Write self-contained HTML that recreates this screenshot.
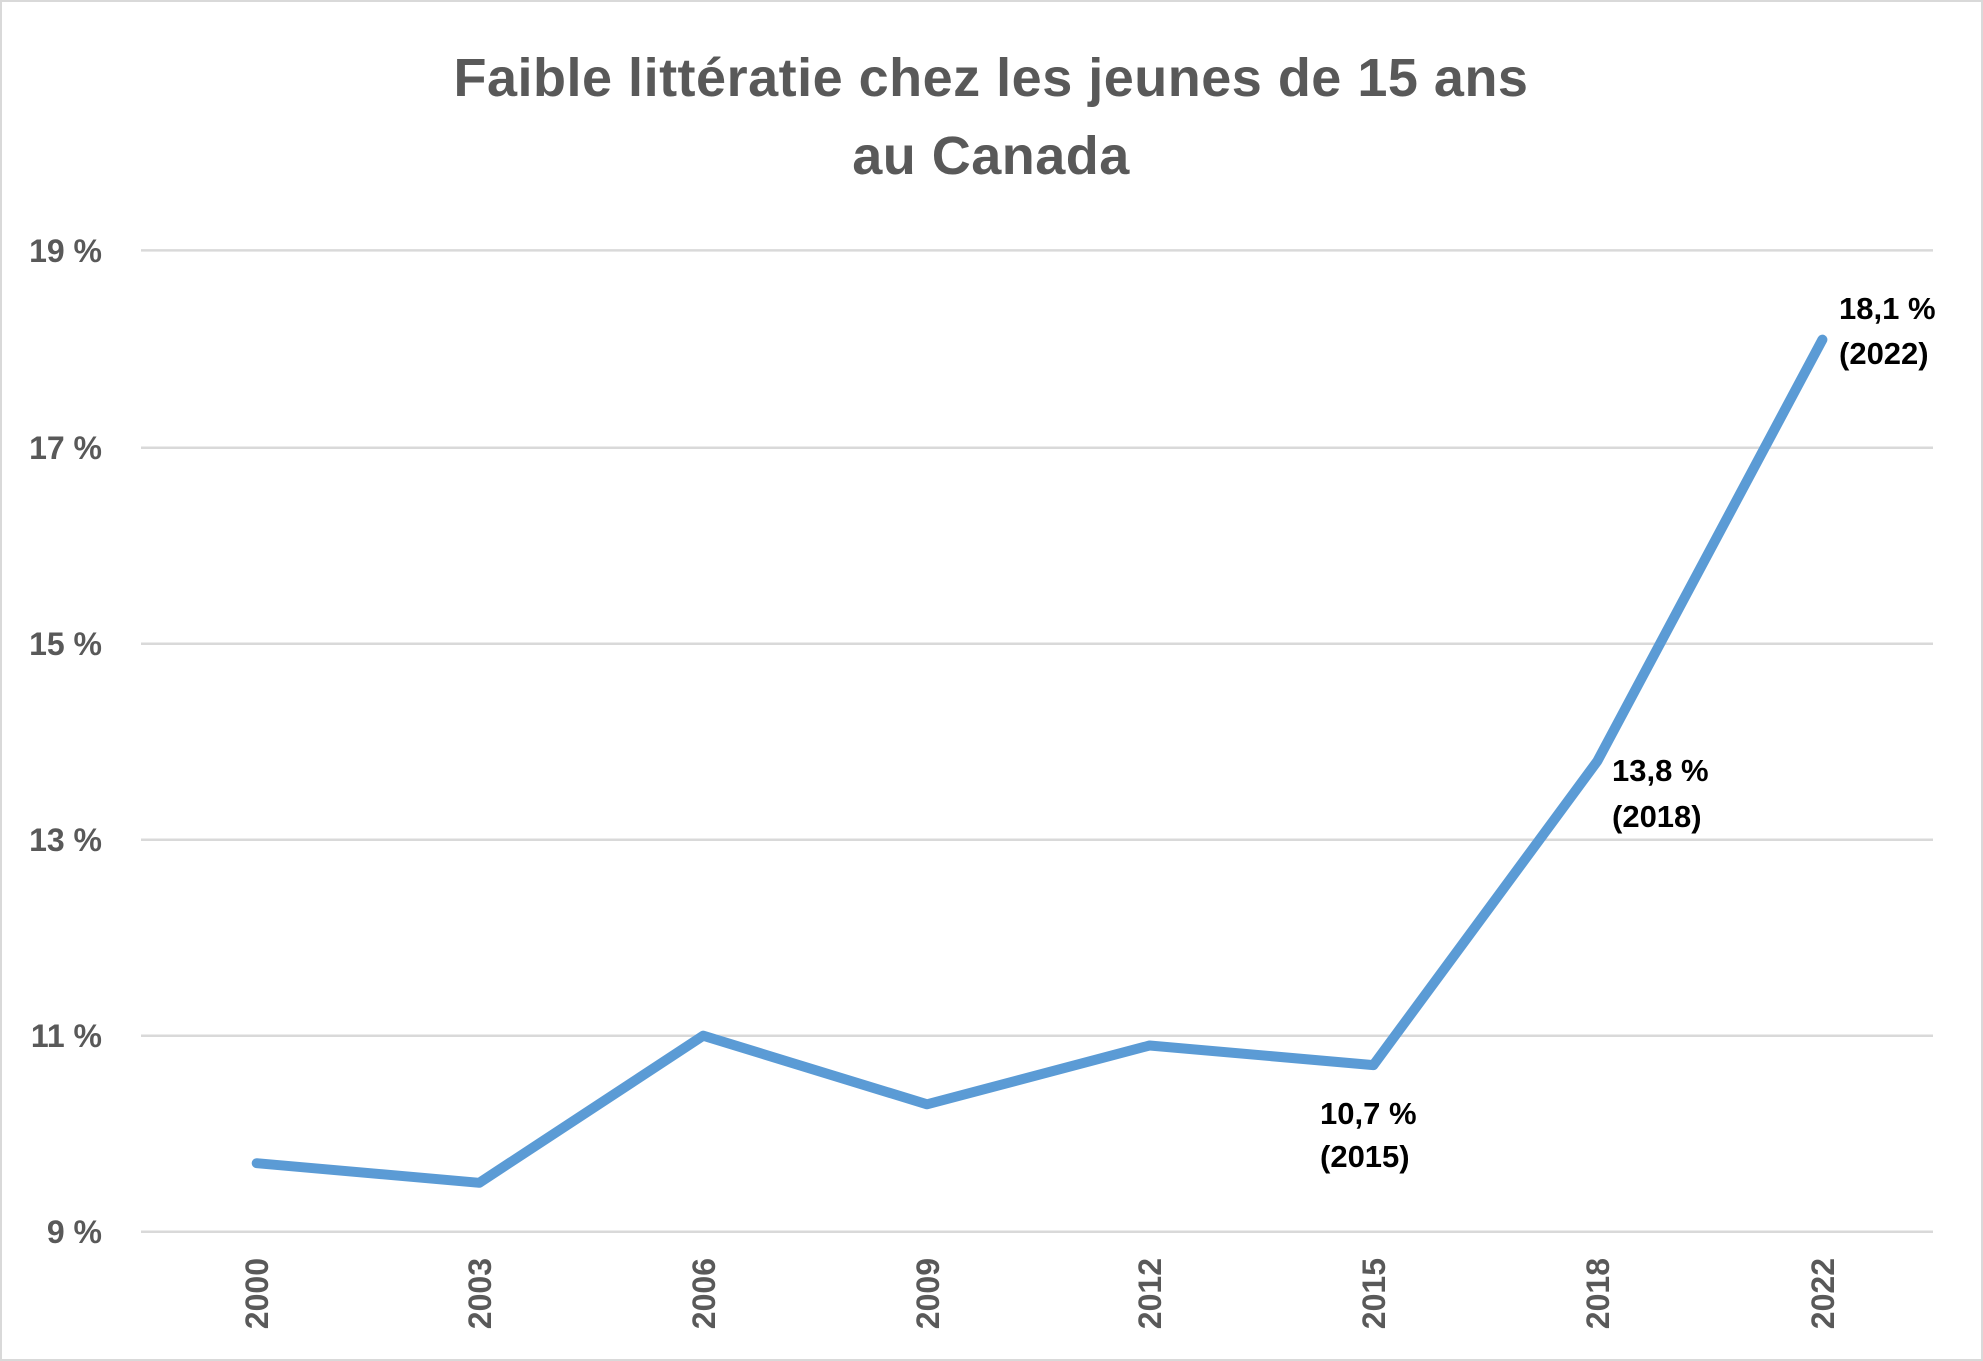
<!DOCTYPE html>
<html><head><meta charset="utf-8"><style>
html,body{margin:0;padding:0;background:#fff;}
svg{display:block;}
</style></head><body>
<svg width="1983" height="1361" viewBox="0 0 1983 1361" xmlns="http://www.w3.org/2000/svg" font-family="'Liberation Sans', sans-serif">
<rect x="1" y="1" width="1981" height="1359" fill="#fff" stroke="#d9d9d9" stroke-width="2"/>
<text x="991" y="96" text-anchor="middle" font-size="54" font-weight="bold" fill="#595959" letter-spacing="0.5">Faible littératie chez les jeunes de 15 ans</text>
<text x="991" y="174" text-anchor="middle" font-size="54" font-weight="bold" fill="#595959" letter-spacing="0.5">au Canada</text>
<g stroke="#d9d9d9" stroke-width="2.5">
<line x1="141" x2="1933" y1="250.4" y2="250.4"/>
<line x1="141" x2="1933" y1="447.7" y2="447.7"/>
<line x1="141" x2="1933" y1="643.7" y2="643.7"/>
<line x1="141" x2="1933" y1="839.7" y2="839.7"/>
<line x1="141" x2="1933" y1="1035.7" y2="1035.7"/>
<line x1="141" x2="1933" y1="1231.8" y2="1231.8"/>
</g>
<g font-size="32" font-weight="bold" fill="#595959" text-anchor="end">
<text x="102" y="262">19 %</text>
<text x="102" y="459">17 %</text>
<text x="102" y="655">15 %</text>
<text x="102" y="851">13 %</text>
<text x="102" y="1047">11 %</text>
<text x="102" y="1243">9 %</text>
</g>
<g font-size="32" font-weight="bold" fill="#595959" text-anchor="end">
<text transform="translate(268,1258) rotate(-90)">2000</text>
<text transform="translate(491,1258) rotate(-90)">2003</text>
<text transform="translate(715,1258) rotate(-90)">2006</text>
<text transform="translate(939,1258) rotate(-90)">2009</text>
<text transform="translate(1161,1258) rotate(-90)">2012</text>
<text transform="translate(1385,1258) rotate(-90)">2015</text>
<text transform="translate(1609,1258) rotate(-90)">2018</text>
<text transform="translate(1834,1258) rotate(-90)">2022</text>
</g>
<polyline fill="none" stroke="#5b9bd5" stroke-width="10" stroke-linecap="round" stroke-linejoin="round"
points="256.7,1163.2 479.3,1182.8 703.2,1035.7 927,1104.3 1149.6,1045.5 1373.4,1065.1 1597.3,761.2 1822.4,339.6"/>
<g font-size="31" font-weight="bold" fill="#000">
<text x="1839" y="319">18,1 %</text>
<text x="1839" y="364">(2022)</text>
<text x="1612" y="781">13,8 %</text>
<text x="1612" y="827">(2018)</text>
<text x="1320" y="1124">10,7 %</text>
<text x="1320" y="1167">(2015)</text>
</g>
</svg>
</body></html>
